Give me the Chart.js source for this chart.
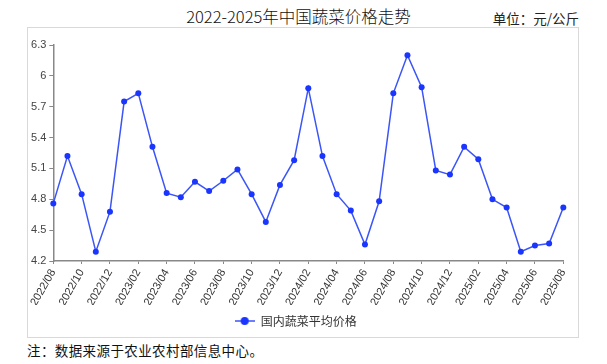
<!DOCTYPE html>
<html>
<head>
<meta charset="utf-8">
<script src="https://cdn.jsdelivr.net/npm/chart.js@4.4.1/dist/chart.umd.min.js"></script>
<style>
  body { margin: 0; width: 607px; height: 364px; background: #fff; position: relative; overflow: hidden; }
  .title { position: absolute; left: 150px; width: 297px; top: 4px; text-align: center; font: 300 16.5px "Noto Sans CJK SC"; color: #111; white-space: nowrap; }
  .unit { position: absolute; right: 28px; top: 8px; font: 13.5px "Noto Sans CJK SC"; color: #222; white-space: nowrap; }
  .frame { position: absolute; left: 27px; top: 27px; width: 550px; height: 309px; border: 1px solid #d9d9d9; }
  .note { position: absolute; left: 27px; top: 340px; font: 13.5px "Noto Sans CJK SC"; letter-spacing: 0.4px; color: #111; white-space: nowrap; }
</style>
</head>
<body>
<div class="title">2022-2025年中国蔬菜价格走势</div>
<div class="unit">单位：元/公斤</div>
<div class="frame"><canvas id="myChart"></canvas></div>
<div class="note">注：数据来源于农业农村部信息中心。</div>

<script>
const months = [
  '2022/08','2022/09','2022/10','2022/11','2022/12',
  '2023/01','2023/02','2023/03','2023/04','2023/05','2023/06','2023/07','2023/08','2023/09','2023/10','2023/11','2023/12',
  '2024/01','2024/02','2024/03','2024/04','2024/05','2024/06','2024/07','2024/08','2024/09','2024/10','2024/11','2024/12',
  '2025/01','2025/02','2025/03','2025/04','2025/05','2025/06','2025/07','2025/08'
];
const prices = [
  4.76, 5.22, 4.85, 4.29, 4.68,
  5.75, 5.83, 5.31, 4.86, 4.82, 4.97, 4.88, 4.98, 5.09, 4.85, 4.58, 4.94,
  5.18, 5.88, 5.22, 4.85, 4.69, 4.36, 4.78, 5.83, 6.20, 5.89, 5.08, 5.04,
  5.31, 5.19, 4.80, 4.72, 4.29, 4.35, 4.37, 4.72
];
const seriesName = '国内蔬菜平均价格';
const yTicks = { min: 4.2, max: 6.3, step: 0.3 };

// legend marker: short line with a dot in the middle
function legendMarker() {
  const c = document.createElement('canvas');
  c.width = 20; c.height = 10;
  const g = c.getContext('2d');
  g.strokeStyle = '#3b55f7';
  g.lineWidth = 1.5;
  g.beginPath(); g.moveTo(0, 5); g.lineTo(20, 5); g.stroke();
  g.fillStyle = '#1a35ff';
  g.beginPath(); g.arc(10, 5, 4, 0, Math.PI * 2); g.fill();
  return c;
}

const tickFont = { family: '"Liberation Sans", sans-serif', size: 11 };

const ctx = document.getElementById('myChart').getContext('2d');
const myChart = new Chart(ctx, {
  type: 'line',
  data: {
    labels: months,
    datasets: [{
      label: seriesName,
      data: prices,
      borderColor: '#3b55f7',
      borderWidth: 1.5,
      backgroundColor: '#1a35ff',
      pointBackgroundColor: '#1a35ff',
      pointBorderColor: '#1a35ff',
      pointRadius: 3,
      pointBorderWidth: 0,
      tension: 0,
      fill: false
    }]
  },
  options: {
    responsive: true,
    maintainAspectRatio: false,
    animation: false,
    layout: { padding: { top: 17, right: 14.7, left: 0, bottom: 0 } },
    plugins: {
      legend: {
        position: 'bottom',
        labels: {
          usePointStyle: true,
          pointStyle: legendMarker(),
          pointStyleWidth: 20,
          color: '#333',
          padding: 10,
          font: { family: '"Noto Sans CJK SC", sans-serif', size: 12 }
        }
      },
      tooltip: { enabled: false }
    },
    scales: {
      x: {
        offset: false,
        border: { color: '#888', width: 1.5 },
        grid: {
          drawOnChartArea: false,
          drawTicks: true,
          tickLength: 3,
          color: c => (c.index % 2 === 0 ? '#888' : 'rgba(0,0,0,0)')
        },
        ticks: {
          autoSkip: false,
          minRotation: 60,
          maxRotation: 60,
          padding: 3,
          color: '#333',
          font: tickFont,
          callback: function(val, i) { return i % 2 === 0 ? months[i] : ''; }
        },
        afterFit: s => { s.height = 44; }
      },
      y: {
        min: yTicks.min,
        max: yTicks.max,
        border: { color: '#888', width: 1.5 },
        grid: { drawOnChartArea: false, drawTicks: true, tickLength: 4, color: '#888' },
        ticks: {
          stepSize: yTicks.step,
          padding: 3,
          color: '#444',
          font: tickFont,
          callback: v => String(Math.round(v * 10) / 10)
        },
        afterFit: s => { s.width = 25.3; }
      }
    }
  }
});
</script>
</body>
</html>
